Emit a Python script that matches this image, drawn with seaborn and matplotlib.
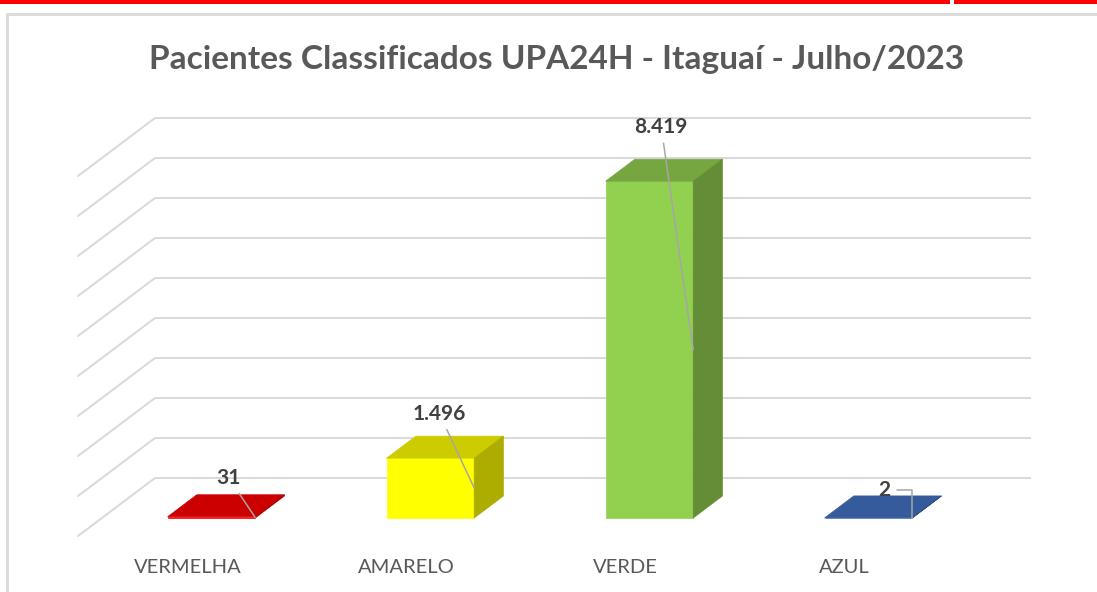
import numpy as np
import pandas as pd
import matplotlib
matplotlib.use("Agg")
import matplotlib.pyplot as plt
import matplotlib.transforms as mtransforms
from matplotlib.patches import Polygon, Rectangle
from matplotlib.lines import Line2D
import seaborn as sns

# ---- data ----
categories = ["VERMELHA", "AMARELO", "VERDE", "AZUL"]
values = [31, 1496, 8419, 2]
bar_colors = ["#FF0000", "#FFFF00", "#92D050", "#4472C4"]
title = "Pacientes Classificados UPA24H - Itaguaí - Julho/2023"
grid_values = list(range(0, 10000, 1000))

# label offsets (points) relative to the mid-depth top centre of each bar
label_offsets = [(2, 20), (-4, 24), (-2, 31), (1, 12)]

sns.set_theme(style="white")
plt.rcParams["font.family"] = ["Lato", "DejaVu Sans"]

W, H = 1097, 592
fig = plt.figure(figsize=(W / 100, H / 100), dpi=100)
fig.patch.set_facecolor("white")

# axes region in pixels
ax_l, ax_r, ax_t, ax_b = 60, 1050, 100, 545
ax = fig.add_axes([ax_l / W, 1 - ax_b / H, (ax_r - ax_l) / W, (ax_b - ax_t) / H])

# pixel -> data mapping for the back wall
PX_PER_CAT = 219.0
PX_PER_UNIT = 0.04
X0_PX, Y0_PX = 155.0, 478.0
def px2x(px):
    return (px - X0_PX) / PX_PER_CAT - 0.5
def px2y(py):
    return (Y0_PX - py) / PX_PER_UNIT

# depth vector for the whole floor (in data units)
DX = -77 / PX_PER_CAT
DY = -58 / PX_PER_UNIT
d_back, d_front = 18 / 58, 40 / 58

df = pd.DataFrame({"cat": categories, "val": values})
sns.barplot(data=df, x="cat", y="val", hue="cat", palette=bar_colors,
            width=0.4, saturation=1, linewidth=0, legend=False, ax=ax, zorder=3)

def shade(c, f):
    r, g, b = matplotlib.colors.to_rgb(c)
    return (r * f, g * f, b * f)

# grid: back wall + left side wall
n = len(categories)
for gv in grid_values:
    ax.plot([-0.5, n - 0.5], [gv, gv], color="#D9D9D9", lw=1.4, zorder=1,
            solid_capstyle="butt")
    ax.plot([-0.5, -0.5 + DX], [gv, gv + DY], color="#D9D9D9", lw=1.4, zorder=1)

patches = sorted(ax.patches, key=lambda p: p.get_x())
for i, p in enumerate(patches):
    x, w, h = p.get_x(), p.get_width(), p.get_height()
    fx, fy = d_front * DX, d_front * DY
    bx, by = d_back * DX, d_back * DY
    # move the front face forward
    p.set_x(x + fx)
    p.set_y(fy)
    p.set_edgecolor(p.get_facecolor())
    p.set_linewidth(0.5)
    col = bar_colors[i]
    top = Polygon([(x + fx, h + fy), (x + w + fx, h + fy),
                   (x + w + bx, h + by), (x + bx, h + by)],
                  closed=True, facecolor=shade(col, 0.8), edgecolor=shade(col, 0.8),
                  lw=0.5, zorder=3)
    side = Polygon([(x + w + fx, h + fy), (x + w + fx, fy),
                    (x + w + bx, by), (x + w + bx, h + by)],
                   closed=True, facecolor=shade(col, 0.68), edgecolor=shade(col, 0.68),
                   lw=0.5, zorder=3)
    ax.add_patch(top)
    ax.add_patch(side)

    # data label with leader line
    dm = 0.5 * (d_front + d_back)
    label_pos = (x + w / 2 + dm * DX, h + dm * DY)
    target = (x + w + fx, fy + h / 2)
    ox, oy = label_offsets[i]
    tr = mtransforms.offset_copy(ax.transData, fig=fig, x=ox, y=oy, units="points")
    txt = f"{values[i]:,}".replace(",", ".")
    cs = "angle,angleA=0,angleB=90,rad=0" if i == 3 else "arc3"
    ax.annotate(txt, xy=target, xytext=label_pos, textcoords=tr,
                ha="center", va="center", fontsize=15, fontweight="bold",
                color="#404040", zorder=5,
                arrowprops=dict(arrowstyle="-", color="#A6A6A6", lw=1.1,
                                connectionstyle=cs, shrinkA=2, shrinkB=0))

ax.set_xlim(px2x(ax_l), px2x(ax_r))
ax.set_ylim(px2y(ax_b), px2y(ax_t))
ax.set_xticks([i + DX for i in range(n)])
ax.set_xticklabels(categories, fontsize=14.5, color="#595959")
ax.tick_params(axis="x", length=0, pad=10)
ax.set_yticks([])
ax.set_xlabel("")
ax.set_ylabel("")
for s in ax.spines.values():
    s.set_visible(False)
ax.set_facecolor("none")

# title
fig.text(557 / W, 1 - 59 / H, title, ha="center", va="center",
         fontsize=24, fontweight="bold", color="#595959")

# decorative frame and top red band
fig.add_artist(Rectangle((0, 1 - 4 / H), 950 / W, 4 / H, transform=fig.transFigure,
                         facecolor="#FF0000", edgecolor="none"))
fig.add_artist(Rectangle((954 / W, 1 - 4 / H), (W - 954) / W, 4 / H,
                         transform=fig.transFigure, facecolor="#FF0000", edgecolor="none"))
fig.add_artist(Line2D([7 / W, 1], [1 - 14 / H, 1 - 14 / H], transform=fig.transFigure,
                      color="#D9D9D9", lw=2))
fig.add_artist(Line2D([7 / W, 7 / W], [0, 1 - 14 / H], transform=fig.transFigure,
                      color="#D9D9D9", lw=2))

fig.savefig("out.png", dpi=100, facecolor="white")
